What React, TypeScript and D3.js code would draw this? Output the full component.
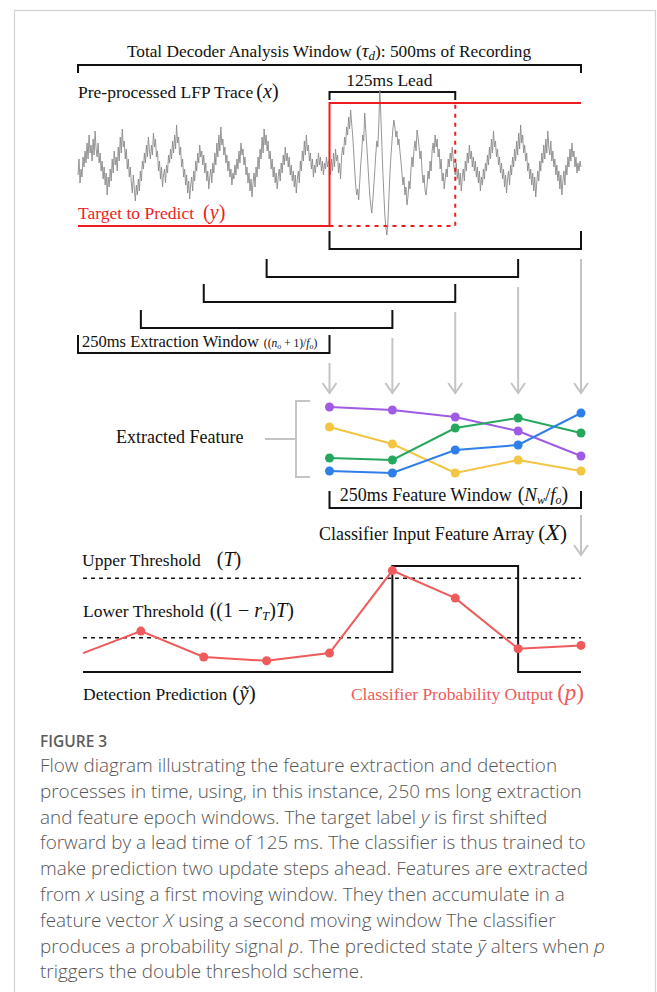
import React from "react";
import * as d3 from "d3";

const W = 657;
const H = 992;

// Pre-processed LFP trace, one sample per ms across the 500 ms window (arbitrary units)
const lfpStepMs = 1;
const lfpTrace = [
  -10, 6, -18, -4, -12, 8, -2, 14, 2, 22, 6, 30, 12, 20, 4, 26, 10, 34, 16, 8, 22, 2, 12, -6, 4,
  -14, -2, -20, -8, -30, -12, -22, -4, -16, 6, -8, 14, 0, 8, -6, 18, 4, 28, 12, 36, 18, 24, 6, 16, -4,
  6, -12, -2, -18, -28, -10, -24, -36, -20, -30, -14, -26, -6, -16, 4, -4, 12, 2, 20, 8, 28, 14, 6, 20, 10,
  32, 18, 26, 8, 14, -6, 4, -14, -2, -22, -10, -4, -18, 0, -8, 10, 2, 16, 6, 24, 12, 30, 16, 40, 22,
  28, 10, 18, -2, 6, -12, -4, -20, -10, -28, -16, -34, -20, -12, -26, -6, -16, 4, -6, 12, 2, 20, 8, 14, 0,
  10, -8, 2, -16, -6, -24, -12, -4, -18, 2, -8, 12, 0, 22, 8, 30, 14, 38, 20, 26, 10, 18, 2, 10, -6,
  4, -12, -4, -20, -8, -14, 0, -10, 6, -4, 14, 2, 22, 10, 16, 0, 8, -10, -2, -18, -8, -26, -14, -32, -18,
  -8, -22, -2, -12, 8, -4, 16, 6, 28, 12, 36, 20, 30, 14, 24, 6, 14, -4, 6, -12, -2, -18, -8, -24, -12,
  -4, -16, 2, -8, 10, 0, 18, 4, 12, -2, 8, -10, 0, -16, -6, -22, -10, -28, -14, -6, -18, 4, -6, 14, 4,
  24, 10, 30, 14, 20, 4, 12, -4, 6, -12, 0, -8, 6, -2, 12, 0, 8, -6, 4, -10, 2, -4, 8, -2, 4,
  4, -10, 6, -6, 12, -2, 16, 4, 10, -8, 2, -14, 8, 18, 10, 28, 20, 38, 30, 48, 36, 55, 42, 30, 14,
  -4, -20, -30, -24, -35, -18, 0, 12, 30, 24, 52, 36, 20, 4, -14, -30, -40, -48, -36, -22, -6, 10, 24, 18, 40,
  75, 50, 22, -6, -28, -50, -62, -70, -58, -34, -10, 8, 22, 36, 45, 38, 28, 34, 20, 26, 14, 4, -8, -20, -12,
  -30, -22, -40, -32, -16, -24, -4, 8, -2, 16, 24, 14, 35, 28, 18, 6, 14, -6, -18, -10, -26, -30, -20, -6, -14,
  4, -6, 14, 22, 12, 30, 18, 26, 8, 16, -4, 6, -16, -8, -24, -14, -4, -12, 6, -2, 12, 4, 18, 6, -4,
  -10, 2, -14, -4, -20, -8, -26, -12, -4, -16, 4, -6, 12, 2, 20, 6, 14, -2, 8, -6, 4, -12, -2, -18, -6,
  -26, -12, -20, -4, -14, 2, -6, 10, 0, 18, 6, 26, 12, 34, 18, 24, 8, 16, 0, 8, -8, 2, -14, -4, -22,
  -10, -28, -14, -6, -20, 0, -10, 8, -2, 16, 4, 24, 10, 32, 16, 40, 22, 30, 12, 20, 4, 12, -6, 2, -14,
  -4, -20, -8, -26, -12, -32, -18, -6, -16, 4, -6, 12, 2, 20, 6, 26, 12, 34, 18, 10, 24, 4, 14, -2, 6,
  -10, 0, -16, -6, -24, -10, -30, -16, -6, -20, 0, -10, 8, -2, 16, 4, 22, 8, 14, -2, 8, -8, 2, -6, 4, -2,
];

// Timing (ms)
const totalWindowMs = 500;
const targetOnsetMs = 250;
const leadMs = 125;
const extractionWindowMs = 250;
const extractionEndsMs = [500, 437.5, 375, 312.5, 250];
const featureTimesMs = [250, 312.5, 375, 437.5, 500];
const featureWindowMs = 250;

// Extracted features at each update step
const featurePurple = [68, 65, 58, 44, 19];
const featureYellow = [48, 31, 2, 15, 4];
const featureGreen = [17, 15, 47, 57, 42];
const featureBlue = [4, 2, 25, 30, 62];

// Classifier probability output and detection prediction
const probTimesMs = [5, 62.5, 125, 187.5, 250, 312.5, 375, 437.5, 500];
const probValues = [0.19, 0.39, 0.155, 0.12, 0.19, 0.94, 0.69, 0.23, 0.26];
const predictionTimesMs = [5, 312.5, 437.5, 500];
const predictionStates = [0, 1, 0, 0];
const upperThreshold = 0.87;
const lowerThreshold = 0.33;

const captionLines = [
  "Flow diagram illustrating the feature extraction and detection",
  "processes in time, using, in this instance, 250 ms long extraction",
  "and feature epoch windows. The target label *y* is first shifted",
  "forward by a lead time of 125 ms. The classifier is thus trained to",
  "make prediction two update steps ahead. Features are extracted",
  "from *x* using a first moving window. They then accumulate in a",
  "feature vector *X* using a second moving window The classifier",
  "produces a probability signal *p*. The predicted state *ỹ* alters when *p*",
  "triggers the double threshold scheme.",
];

const serif = "'Liberation Serif', 'Times New Roman', serif";
const sans = "'Open Sans', 'Noto Sans', sans-serif";
const black = "#111";
const grey = "#c4c4c4";
const targetRed = "#ee1d1d";
const probRed = "#ef5a5a";
const fs = 17.5;
const mathFs = 20;

const bracketPath = (x1: number, x2: number, y: number, h: number) =>
  `M${x1},${y + h}V${y}H${x2}V${y + h}`;

export default function App() {
  const xT = d3.scaleLinear().domain([0, totalWindowMs]).range([78, 581]);
  const yLfp = d3.scaleLinear().domain([-100, 100]).range([265, 65]);
  const yTarget = d3.scaleLinear().domain([0, 1]).range([226, 103]);
  const yFeat = d3.scaleLinear().domain([0, 70]).range([475, 405]);
  const yProb = d3.scaleLinear().domain([0, 1]).range([674, 564]);
  const yPred = d3.scaleLinear().domain([0, 1]).range([672, 566]);

  const lfpLine = d3
    .line<number>()
    .x((_, i) => xT(i * lfpStepMs))
    .y((v) => yLfp(v));

  const targetLine = d3
    .line<[number, number]>()
    .x((d) => xT(d[0]))
    .y((d) => yTarget(d[1]))
    .curve(d3.curveStepAfter);
  const targetPts: [number, number][] = [
    [0, 0],
    [targetOnsetMs, 1],
    [totalWindowMs, 1],
  ];
  const leadEnd = targetOnsetMs + leadMs;

  const featLine = d3
    .line<number>()
    .x((_, i) => xT(featureTimesMs[i]))
    .y((v) => yFeat(v));
  const features = [
    { key: "purple", color: "#a05be6", values: featurePurple },
    { key: "yellow", color: "#f4c542", values: featureYellow },
    { key: "green", color: "#25a85e", values: featureGreen },
    { key: "blue", color: "#2f7fea", values: featureBlue },
  ];

  const probLine = d3
    .line<number>()
    .x((_, i) => xT(probTimesMs[i]))
    .y((v) => yProb(v));
  const predLine = d3
    .line<number>()
    .x((_, i) => xT(predictionTimesMs[i]))
    .y((v) => yPred(v))
    .curve(d3.curveStepAfter);

  const windowLineY = [249, 277, 302, 328, 353];
  const arrowTipY = 393;

  const chevron = (x: number, y: number) => `M${x - 7},${y - 10}L${x},${y}L${x + 7},${y - 10}`;

  const renderCaption = (line: string) =>
    line.split("*").map((part, i) =>
      i % 2 === 1 ? (
        <tspan key={i} fontStyle="italic">
          {part}
        </tspan>
      ) : (
        <tspan key={i}>{part}</tspan>
      )
    );

  return (
    <svg
      width={W}
      height={H}
      style={{ position: "absolute", left: 0, top: 0, background: "#fff" }}
    >
      <rect x={14.5} y={10.5} width={641} height={1000} fill="none" stroke="#d2d2d2" strokeWidth={1.2} />

      <g fontFamily={serif} fill={black} fontSize={fs}>
        {/* Total window */}
        <text x={329} y={57} textAnchor="middle" fontSize={17.3}>
          Total Decoder Analysis Window (
          <tspan fontStyle="italic" fontSize={19}>τ</tspan>
          <tspan fontStyle="italic" fontSize={13} dy={3}>d</tspan>
          <tspan dy={-3}>): 500ms of Recording</tspan>
        </text>
        <path d={bracketPath(xT(0), xT(totalWindowMs), 65, 8)} fill="none" stroke={black} strokeWidth={2} />

        <text x={78} y={98}>
          Pre-processed LFP Trace
          <tspan dx={3} fontSize={mathFs}>(</tspan>
          <tspan fontStyle="italic" fontSize={mathFs}>x</tspan>
          <tspan fontSize={mathFs}>)</tspan>
        </text>

        {/* Lead */}
        <text x={(xT(targetOnsetMs) + xT(leadEnd)) / 2 - 3} y={86} textAnchor="middle">
          125ms Lead
        </text>
        <path d={bracketPath(xT(targetOnsetMs), xT(leadEnd), 92, 8)} fill="none" stroke={black} strokeWidth={2} />
      </g>

      {/* LFP trace */}
      <path d={lfpLine(lfpTrace) ?? ""} fill="none" stroke="#8a8a8a" strokeWidth={0.9} strokeLinejoin="round" />

      {/* Target label and its unshifted version */}
      <path d={targetLine(targetPts) ?? ""} fill="none" stroke={targetRed} strokeWidth={2} />
      <path
        d={`M${xT(targetOnsetMs)},${yTarget(0)}H${xT(leadEnd)}V${yTarget(1)}`}
        fill="none"
        stroke={targetRed}
        strokeWidth={2}
        strokeDasharray="4,5"
      />
      <text x={78} y={219} fontFamily={serif} fontSize={fs} fill={targetRed}>
        Target to Predict
        <tspan dx={9} fontSize={mathFs}>(</tspan>
        <tspan fontStyle="italic" fontSize={mathFs}>y</tspan>
        <tspan fontSize={mathFs}>)</tspan>
      </text>

      {/* Extraction windows */}
      {extractionEndsMs.map((end, k) => (
        <g key={end}>
          <path
            d={bracketPath(xT(end - extractionWindowMs), xT(end), windowLineY[k], -18)}
            fill="none"
            stroke={black}
            strokeWidth={2}
          />
          <line x1={xT(end)} x2={xT(end)} y1={windowLineY[k] + 10} y2={arrowTipY} stroke={grey} strokeWidth={2} />
          <path d={chevron(xT(end), arrowTipY)} fill="none" stroke={grey} strokeWidth={2} />
        </g>
      ))}
      <text x={82} y={347} fontFamily={serif} fontSize={16.5} fill={black}>
        250ms Extraction Window
        <tspan dx={5} fontSize={11.5}>((</tspan>
        <tspan fontSize={11.5} fontStyle="italic">n</tspan>
        <tspan fontSize={8} fontStyle="italic" dy={2}>o</tspan>
        <tspan fontSize={11.5} dy={-2}> + 1)/</tspan>
        <tspan fontSize={11.5} fontStyle="italic">f</tspan>
        <tspan fontSize={8} fontStyle="italic" dy={2}>o</tspan>
        <tspan fontSize={11.5} dy={-2}>)</tspan>
      </text>

      {/* Extracted features */}
      <text x={116} y={443} fontFamily={serif} fontSize={18} fill={black}>
        Extracted Feature
      </text>
      <path d="M265,439H296M310,401H296V477H310" fill="none" stroke={grey} strokeWidth={2} />
      {features.map((f) => (
        <g key={f.key}>
          <path d={featLine(f.values) ?? ""} fill="none" stroke={f.color} strokeWidth={2} />
          {f.values.map((v, i) => (
            <circle key={i} cx={xT(featureTimesMs[i])} cy={yFeat(v)} r={4.5} fill={f.color} />
          ))}
        </g>
      ))}

      {/* Feature window */}
      <path
        d={bracketPath(xT(totalWindowMs - featureWindowMs), xT(totalWindowMs), 508, -17)}
        fill="none"
        stroke={black}
        strokeWidth={2}
      />
      <text x={454} y={501} textAnchor="middle" fontFamily={serif} fontSize={18} fill={black}>
        250ms Feature Window
        <tspan dx={6} fontSize={mathFs}>(</tspan>
        <tspan fontStyle="italic" fontSize={19}>N</tspan>
        <tspan fontStyle="italic" fontSize={12} dy={3}>w</tspan>
        <tspan dy={-3} fontSize={19}>/</tspan>
        <tspan fontStyle="italic" fontSize={19}>f</tspan>
        <tspan fontStyle="italic" fontSize={12} dy={3}>o</tspan>
        <tspan fontSize={mathFs} dy={-3}>)</tspan>
      </text>
      <line x1={xT(totalWindowMs)} x2={xT(totalWindowMs)} y1={515} y2={555} stroke={grey} strokeWidth={2} />
      <path d={chevron(xT(totalWindowMs), 555)} fill="none" stroke={grey} strokeWidth={2} />
      <text x={567} y={540} textAnchor="end" fontFamily={serif} fontSize={18} fill={black}>
        Classifier Input Feature Array
        <tspan dx={4} fontSize={21}>(</tspan>
        <tspan fontStyle="italic" fontSize={24}>X</tspan>
        <tspan fontSize={21}>)</tspan>
      </text>

      {/* Thresholds */}
      <g fontFamily={serif} fontSize={fs} fill={black}>
        <text x={82} y={566}>
          Upper Threshold
          <tspan dx={16} fontSize={mathFs}>(</tspan>
          <tspan fontStyle="italic" fontSize={mathFs}>T</tspan>
          <tspan fontSize={mathFs}>)</tspan>
        </text>
        <text x={83} y={617}>
          Lower Threshold
          <tspan dx={6} fontSize={mathFs}>((1 − </tspan>
          <tspan fontStyle="italic" fontSize={mathFs}>r</tspan>
          <tspan fontStyle="italic" fontSize={13} dy={3}>T</tspan>
          <tspan fontSize={mathFs} dy={-3}>)</tspan>
          <tspan fontStyle="italic" fontSize={mathFs}>T</tspan>
          <tspan fontSize={mathFs}>)</tspan>
        </text>
        <text x={83} y={700}>
          Detection Prediction
          <tspan dx={5} fontSize={21}>(</tspan>
          <tspan fontStyle="italic" fontSize={21}>ỹ</tspan>
          <tspan fontSize={21}>)</tspan>
        </text>
      </g>
      {[upperThreshold, lowerThreshold].map((t) => (
        <line
          key={t}
          x1={xT(probTimesMs[0])}
          x2={xT(totalWindowMs)}
          y1={yProb(t)}
          y2={yProb(t)}
          stroke={black}
          strokeWidth={1.6}
          strokeDasharray="4,4"
        />
      ))}
      <path d={predLine(predictionStates) ?? ""} fill="none" stroke={black} strokeWidth={2} />
      <path d={probLine(probValues) ?? ""} fill="none" stroke={probRed} strokeWidth={2} />
      {probValues.map((v, i) =>
        i === 0 ? null : <circle key={i} cx={xT(probTimesMs[i])} cy={yProb(v)} r={4.5} fill={probRed} />
      )}
      <text x={584} y={700} textAnchor="end" fontFamily={serif} fontSize={fs} fill={probRed}>
        Classifier Probability Output
        <tspan dx={4} fontSize={23}>(</tspan>
        <tspan fontStyle="italic" fontSize={23}>p</tspan>
        <tspan fontSize={23}>)</tspan>
      </text>

      {/* Caption */}
      <text x={40} y={747} fontFamily={sans} fontWeight={600} fontSize={15.5} fill="#5c5c5c">
        FIGURE 3
      </text>
      <g fontFamily={sans} fontWeight={300} fontSize={18.9} fill="#555">
        {captionLines.map((line, i) => (
          <text key={i} x={40} y={772 + i * 25.8}>
            {renderCaption(line)}
          </text>
        ))}
      </g>
    </svg>
  );
}
